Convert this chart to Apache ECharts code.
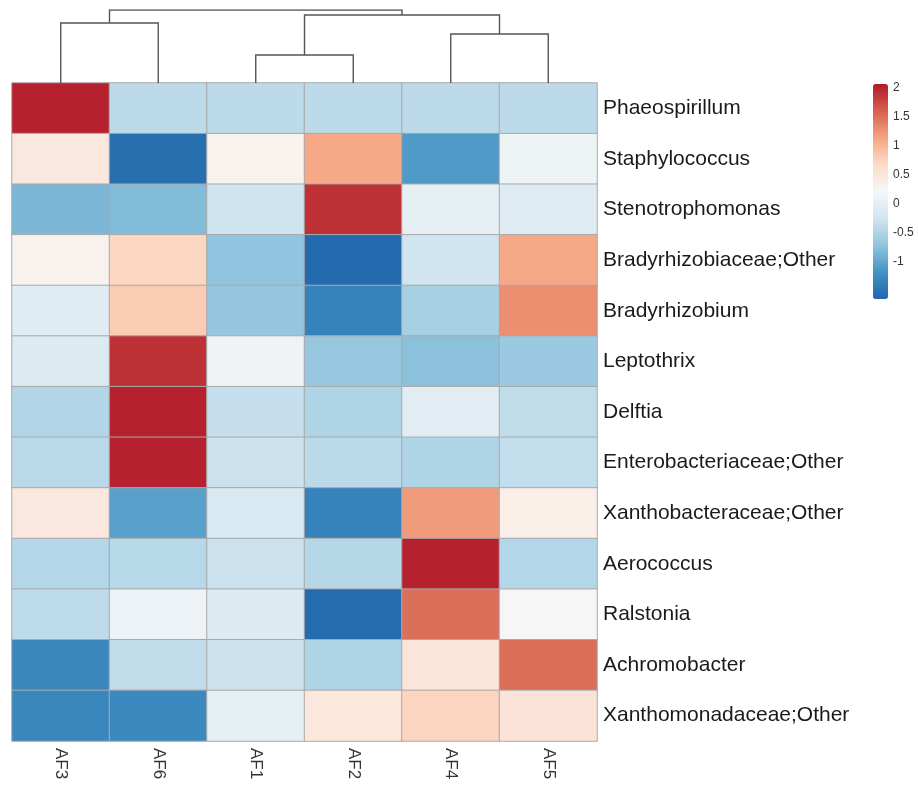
<!DOCTYPE html>
<html>
<head>
<meta charset="utf-8">
<script src="https://cdn.jsdelivr.net/npm/echarts@6/dist/echarts.min.js"></script>
<style>
  html, body { margin: 0; padding: 0; background: #ffffff; }
  #chart { width: 919px; height: 789px; }
</style>
</head>
<body>
<div id="chart"></div>
<script>
// ---- data ----
const columns = ['AF3', 'AF6', 'AF1', 'AF2', 'AF4', 'AF5'];
const rows = [
  'Phaeospirillum', 'Staphylococcus', 'Stenotrophomonas', 'Bradyrhizobiaceae;Other',
  'Bradyrhizobium', 'Leptothrix', 'Delftia', 'Enterobacteriaceae;Other',
  'Xanthobacteraceae;Other', 'Aerococcus', 'Ralstonia', 'Achromobacter',
  'Xanthomonadaceae;Other'
];
// row-scaled values, one list per row, in column order above
const zScores = [
  [ 2.00, -0.41, -0.41, -0.41, -0.41, -0.41],
  [ 0.45, -1.55,  0.30,  1.10, -1.11,  0.10],
  [-0.84, -0.80, -0.27,  1.90,  0.00, -0.10],
  [ 0.30,  0.70, -0.72, -1.60, -0.25,  1.10],
  [-0.08,  0.80, -0.70, -1.35, -0.55,  1.28],
  [-0.12,  1.90,  0.12, -0.68, -0.75, -0.65],
  [-0.48,  2.00, -0.35, -0.50, -0.05, -0.38],
  [-0.42,  2.00, -0.30, -0.42, -0.50, -0.36],
  [ 0.45, -1.05, -0.15, -1.35,  1.20,  0.35],
  [-0.47, -0.44, -0.30, -0.45,  2.00, -0.47],
  [-0.40,  0.08, -0.12, -1.58,  1.50,  0.22],
  [-1.30, -0.38, -0.30, -0.50,  0.50,  1.50],
  [-1.30, -1.28,  0.00,  0.48,  0.72,  0.52]
];
// column dendrogram: [left node, right node, merge height]; leaves are 0..5 in column order
const dendroMerges = [
  [0, 1, 60],
  [2, 3, 28],
  [4, 5, 49],
  [7, 8, 68],
  [6, 9, 73]
];
const colorMin = -1.64;
const colorMax = 2.06;
const legendTicks = [-1, -0.5, 0, 0.5, 1, 1.5, 2];
const palette = ['#2166ac', '#4393c3', '#92c5de', '#d1e5f0', '#f7f7f7', '#fddbc7', '#f4a582', '#d6604d', '#b2182b'];

// ---- build ----
const heatData = [];
zScores.forEach((rowVals, r) => rowVals.forEach((v, c) => heatData.push([c, r, v])));

const nodeX = columns.map((_, i) => i + 0.5);
const nodeH = columns.map(() => 0);
const dendroLines = [];
dendroMerges.forEach(([a, b, h]) => {
  dendroLines.push({ coords: [[nodeX[a], nodeH[a]], [nodeX[a], h], [nodeX[b], h], [nodeX[b], nodeH[b]]] });
  nodeX.push((nodeX[a] + nodeX[b]) / 2);
  nodeH.push(h);
});
const dendroTop = Math.max(...dendroMerges.map(m => m[2]));

const FONT = 'Liberation Sans, Arial, Helvetica, sans-serif';
const chart = echarts.init(document.getElementById('chart'), null, { renderer: 'canvas' });
chart.setOption({
  animation: false,
  backgroundColor: '#ffffff',
  grid: [
    { left: 12, top: 83, width: 585, height: 658 },
    { left: 12, top: 10, width: 585, height: 73 },
    { left: 873, top: 84, width: 15, height: 215 }
  ],
  xAxis: [
    {
      type: 'category', gridIndex: 0, data: columns, position: 'bottom',
      axisLine: { show: false }, axisTick: { show: false }, splitLine: { show: false },
      axisLabel: { rotate: -90, fontSize: 17, color: '#333', fontFamily: FONT, margin: 7 }
    },
    { type: 'value', gridIndex: 1, min: 0, max: columns.length, show: false },
    { type: 'value', gridIndex: 2, min: 0, max: 1, show: false }
  ],
  yAxis: [
    {
      type: 'category', gridIndex: 0, data: rows, inverse: true, position: 'right',
      axisLine: { show: false }, axisTick: { show: false }, splitLine: { show: false },
      axisLabel: { fontSize: 21, color: '#1a1a1a', fontFamily: FONT, margin: 6 }
    },
    { type: 'value', gridIndex: 1, min: 0, max: dendroTop, show: false },
    {
      type: 'value', gridIndex: 2, min: colorMin, max: colorMax, splitNumber: 7, position: 'right',
      axisLine: { show: false }, axisTick: { show: false }, splitLine: { show: false },
      axisLabel: {
        fontSize: 12, color: '#333', fontFamily: FONT, margin: 5,
        showMinLabel: false, showMaxLabel: false,
        formatter: v => legendTicks.some(t => Math.abs(t - v) < 1e-6) ? String(v) : ''
      }
    }
  ],
  visualMap: {
    type: 'continuous', seriesIndex: 0, min: colorMin, max: colorMax,
    inRange: { color: palette },
    orient: 'vertical', left: 873, top: 84, itemWidth: 15, itemHeight: 215,
    padding: 0, calculable: false, text: null, showLabel: false, hoverLink: false
  },
  series: [
    {
      type: 'heatmap', xAxisIndex: 0, yAxisIndex: 0, data: heatData,
      itemStyle: { borderColor: '#a9a9a9', borderWidth: 1 },
      emphasis: { disabled: true }
    },
    {
      type: 'lines', coordinateSystem: 'cartesian2d', xAxisIndex: 1, yAxisIndex: 1,
      polyline: true, data: dendroLines, silent: true,
      lineStyle: { color: '#555', width: 1.4, opacity: 1 }
    }
  ]
});
</script>
</body>
</html>
